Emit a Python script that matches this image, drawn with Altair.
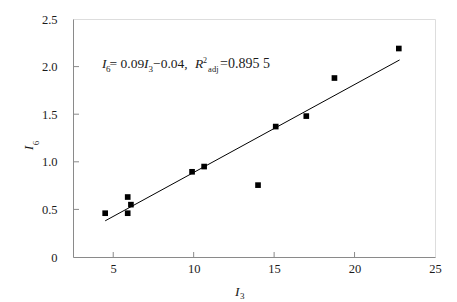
import altair as alt
import pandas as pd

# data
i3 = [4.5, 5.9, 5.9, 6.1, 9.9, 10.65, 14.0, 15.1, 17.0, 18.75, 22.75]
i6 = [0.46, 0.63, 0.46, 0.55, 0.895, 0.95, 0.755, 1.37, 1.48, 1.88, 2.19]
fit_x = [4.5, 22.8]
fit_y = [0.38, 2.07]
x_ticks = [5, 10, 15, 20, 25]
y_ticks = [0, 0.5, 1.0, 1.5, 2.0, 2.5]

FONT = "'Liberation Serif', 'Times New Roman', Times, serif"
GRAY = "#8a8a8a"
TXT = "#1a1a1a"
W, H = 362, 238

pts = pd.DataFrame({"x": i3, "y": i6})
fit = pd.DataFrame({"x": fit_x, "y": fit_y})

xs = alt.Scale(domain=[2.5, 25], nice=False, zero=False)
ys = alt.Scale(domain=[0, 2.5], nice=False, zero=False)

xaxis = alt.Axis(values=x_ticks, ticks=False, tickSize=0, grid=False, title=None,
                 labelFont=FONT, labelFontSize=12.5, labelColor=TXT, labelPadding=5,
                 domainColor=GRAY, labelFlush=False)
yaxis = alt.Axis(values=y_ticks, ticks=False, tickSize=0, grid=False, title=None,
                 labelFont=FONT, labelFontSize=12.5, labelColor=TXT, labelPadding=16,
                 domainColor=GRAY, labelFlush=False,
                 labelExpr="datum.value == 0 ? '0' : format(datum.value, '.1f')")

points = alt.Chart(pts).mark_square(size=32, color="black", opacity=1).encode(
    x=alt.X("x:Q", scale=xs, axis=xaxis),
    y=alt.Y("y:Q", scale=ys, axis=yaxis),
)

line = alt.Chart(fit).mark_line(color="black", strokeWidth=1).encode(
    x=alt.X("x:Q", scale=xs), y=alt.Y("y:Q", scale=ys)
)

xt = alt.Chart(pd.DataFrame({"x": x_ticks[:-1]})).mark_rule(color=GRAY, strokeWidth=1).encode(
    x=alt.X("x:Q", scale=xs), y=alt.value(H), y2=alt.value(H - 5)
)
yt = alt.Chart(pd.DataFrame({"y": y_ticks[1:-1]})).mark_rule(color=GRAY, strokeWidth=1).encode(
    y=alt.Y("y:Q", scale=ys), x=alt.value(0), x2=alt.value(6)
)

# annotation: I6= 0.09I3−0.04, R2adj=0.895 5
ann_parts = ["I", "6", "= 0.09", "I", "3", "−0.04,", "R", "2", "adj", "=0.895 5"]
ann_style = [
    dict(dx=0, dy=0, fontSize=13.5, fontStyle="italic"),
    dict(dx=4, dy=4, fontSize=9, fontStyle="normal"),
    dict(dx=7.5, dy=0, fontSize=13.5, fontStyle="normal"),
    dict(dx=42, dy=0, fontSize=13.5, fontStyle="italic"),
    dict(dx=46.5, dy=4, fontSize=9, fontStyle="normal"),
    dict(dx=51, dy=0, fontSize=13.5, fontStyle="normal"),
    dict(dx=93, dy=0, fontSize=13.5, fontStyle="italic"),
    dict(dx=101, dy=-5, fontSize=8, fontStyle="normal"),
    dict(dx=106, dy=4, fontSize=8.5, fontStyle="normal"),
    dict(dx=118, dy=0, fontSize=14, fontStyle="normal"),
]
ann_x, ann_y = 4.31, 1.985
ann_layers = []
for t, st in zip(ann_parts, ann_style):
    ann_layers.append(
        alt.Chart().mark_text(text=t, align="left", baseline="alphabetic", font=FONT,
                              color=TXT, **st)
        .encode(x=alt.X(datum=ann_x, scale=xs), y=alt.Y(datum=ann_y, scale=ys))
    )

# axis titles
x_title = [
    alt.Chart().mark_text(text="I", align="left", baseline="alphabetic", font=FONT,
                          fontSize=13.5, fontStyle="italic", color=TXT)
    .encode(x=alt.value(162), y=alt.value(277)),
    alt.Chart().mark_text(text="3", align="left", baseline="alphabetic", font=FONT,
                          fontSize=9, color=TXT)
    .encode(x=alt.value(167), y=alt.value(280)),
]
y_title = [
    alt.Chart().mark_text(text="I", align="center", baseline="alphabetic", font=FONT,
                          fontSize=13.5, fontStyle="italic", color=TXT, angle=270)
    .encode(x=alt.value(-40), y=alt.value(129)),
    alt.Chart().mark_text(text="6", align="center", baseline="alphabetic", font=FONT,
                          fontSize=9, color=TXT, angle=270)
    .encode(x=alt.value(-34), y=alt.value(124)),
]

chart = alt.layer(line, points, xt, yt, *ann_layers, *x_title, *y_title).properties(
    width=W, height=H,
    autosize=alt.AutoSizeParams(type="none"),
    padding={"left": 65, "top": 11, "right": 14, "bottom": 44},
).configure_view(stroke=GRAY, strokeWidth=1).configure(background="white", font=FONT)

chart.save("out.html", embed_options={"renderer": "svg", "actions": False})
